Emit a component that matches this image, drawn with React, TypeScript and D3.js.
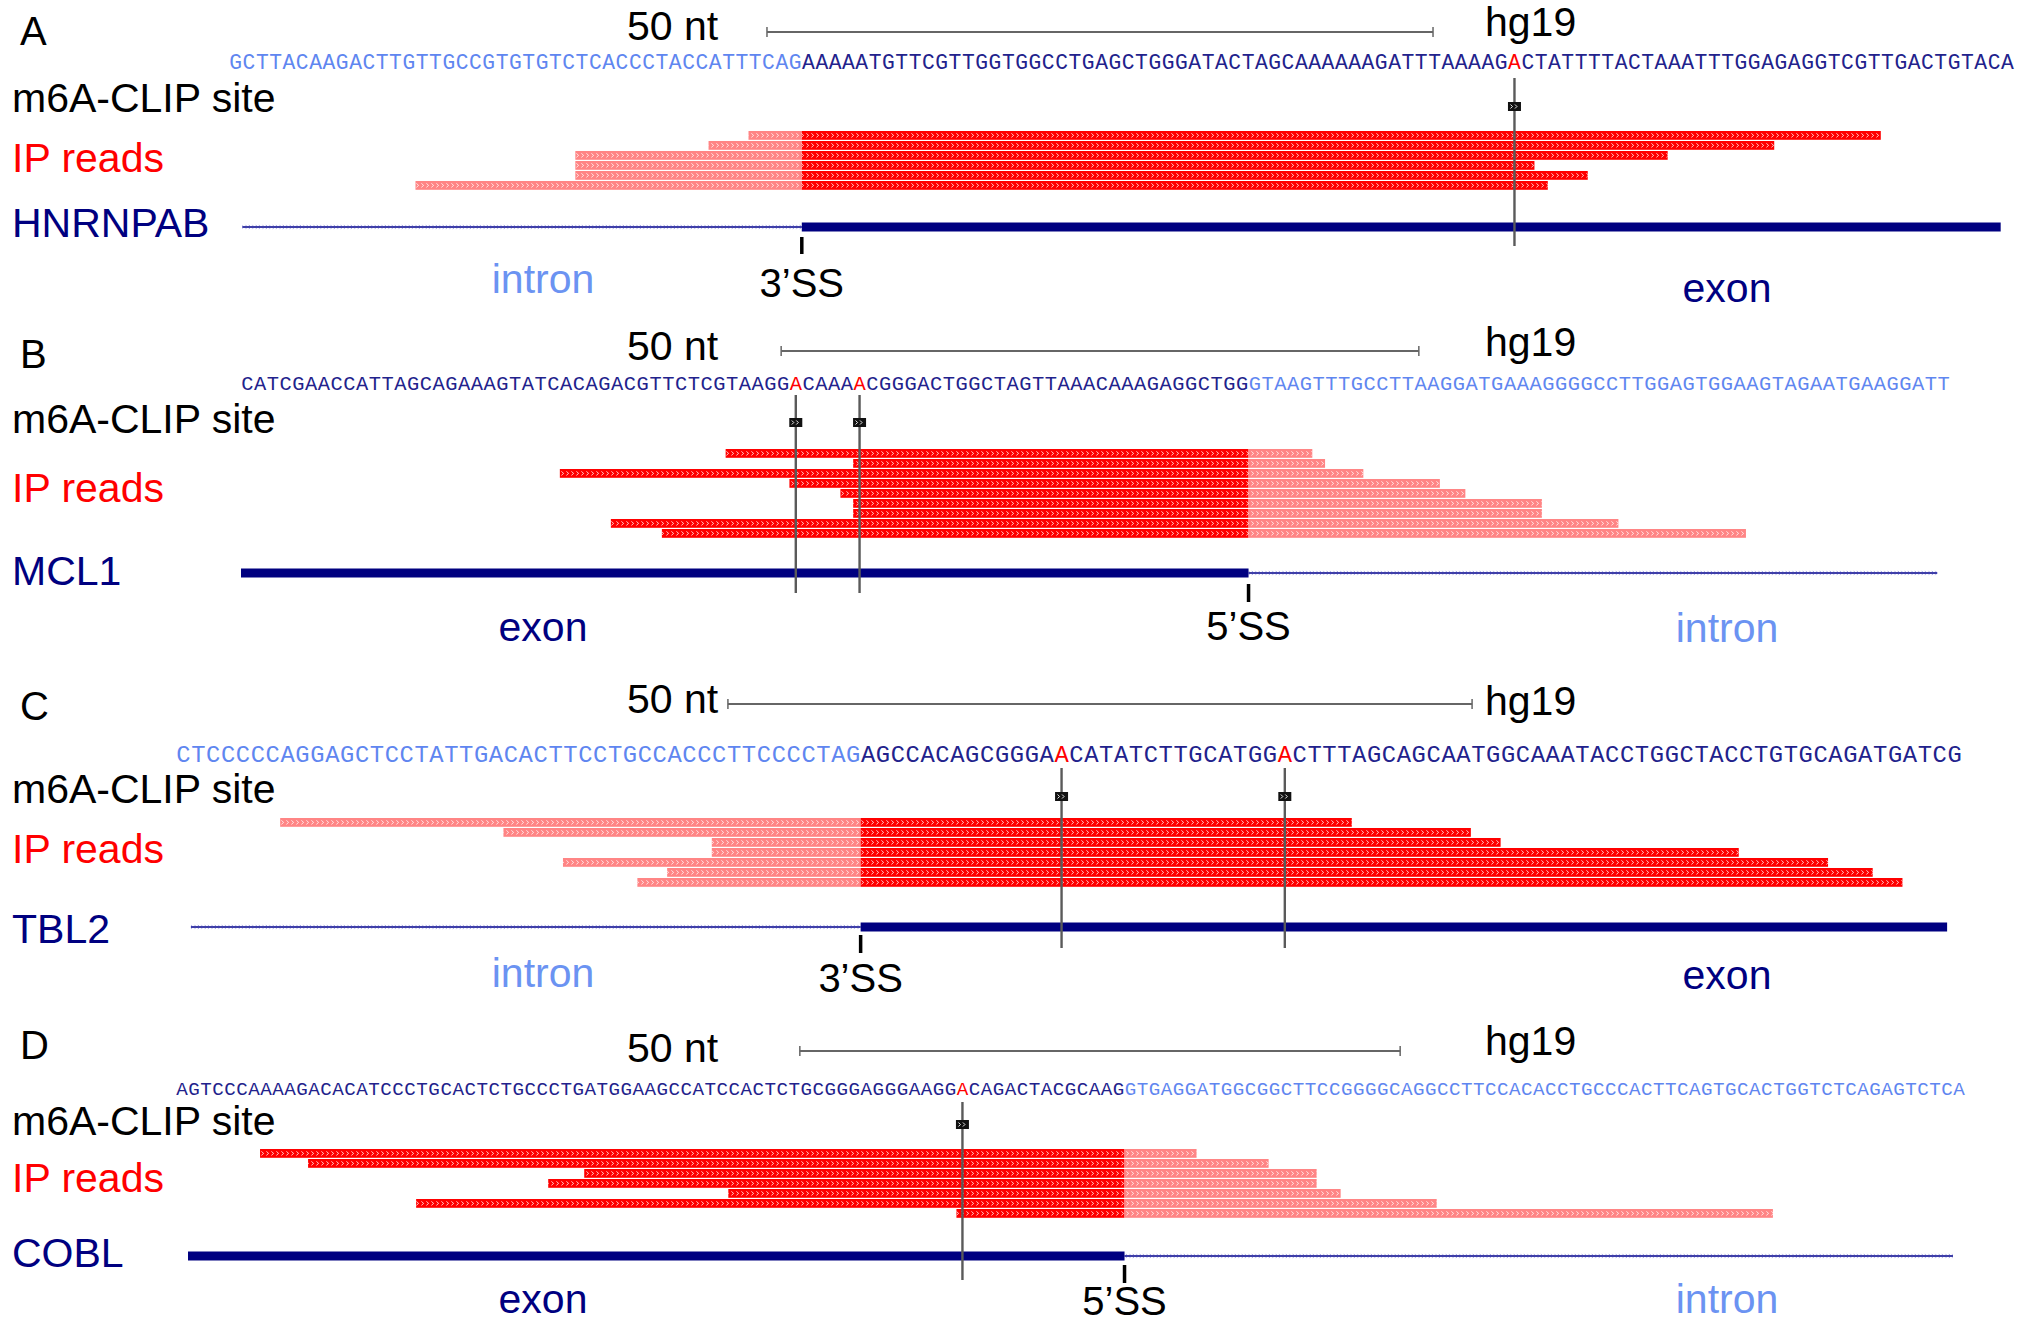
import React from "react";
import * as d3 from "d3";

const W = 2028;
const H = 1324;

// ---------- data ----------
const panelLetters = ["A", "B", "C", "D"];
const geneNames = ["HNRNPAB", "MCL1", "TBL2", "COBL"];
const sequences = [
  "GCTTACAAGACTTGTTGCCGTGTGTCTCACCCTACCATTTCAG" +
    "AAAAATGTTCGTTGGTGGCCTGAGCTGGGATACTAGCAAAAAAGATTTAAAAG" +
    "A" +
    "CTATTTTACTAAATTTGGAGAGGTCGTTGACTGTACA",
  "CATCGAACCATTAGCAGAAAGTATCACAGACGTTCTCGTAAGG" +
    "A" +
    "CAAA" +
    "A" +
    "CGGGACTGGCTAGTTAAACAAAGAGGCTGG" +
    "GTAAGTTTGCCTTAAGGATGAAAGGGGCCTTGGAGTGGAAGTAGAATGAAGGATT",
  "CTCCCCCAGGAGCTCCTATTGACACTTCCTGCCACCCTTCCCCTAG" +
    "AGCCACAGCGGGA" +
    "A" +
    "CATATCTTGCATGG" +
    "A" +
    "CTTTAGCAGCAATGGCAAATACCTGGCTACCTGTGCAGATGATCG",
  "AGTCCCAAAAGACACATCCCTGCACTCTGCCCTGATGGAAGCCATCCACTCTGCGGGAGGGAAGG" +
    "A" +
    "CAGACTACGCAAG" +
    "GTGAGGATGGCGGCTTCCGGGGCAGGCCTTCCACACCTGCCCACTTCAGTGCACTGGTCTCAGAGTCTCA",
];
const spliceSites = [43, 79, 46, 79];
const spliceLabels = ["3\u2019SS", "5\u2019SS", "3\u2019SS", "5\u2019SS"];
const exonOnRight = [true, false, true, false];
const geneExtents = [
  [1, 133],
  [0, 133],
  [1, 119],
  [1, 148],
];
const m6aSites = [[96], [43, 48], [59, 74], [65]];
const readStarts = [
  [39, 36, 26, 26, 26, 14],
  [38, 48, 25, 43, 47, 48, 48, 29, 33],
  [7, 22, 36, 36, 26, 33, 31],
  [7, 11, 34, 31, 46, 20, 65],
];
const readEnds = [
  [124, 116, 108, 98, 102, 99],
  [84, 85, 88, 94, 96, 102, 102, 108, 118],
  [79, 87, 89, 105, 111, 114, 116],
  [85, 91, 95, 95, 97, 105, 133],
];
const scaleBarNt = 50;

// ---------- layout ----------
const layout = [
  { x0: 229, x1: 2014, letterY: 45, barY: 32, ntY: 40, hgY: 36, seqY: 69, m6aY: 112, ipY: 172, geneLabY: 237, markerTop: 102, lineTop: 78, lineBot: 246, readTop: 131, geneY: 227, tickTop: 237, tickBot: 254, ssY: 297, leftLabY: 293, rightLabY: 302 },
  { x0: 241, x1: 1950, letterY: 368, barY: 351, ntY: 360, hgY: 356, seqY: 390, m6aY: 433, ipY: 502, geneLabY: 585, markerTop: 418, lineTop: 395, lineBot: 593, readTop: 449, geneY: 573, tickTop: 584, tickBot: 602, ssY: 640, leftLabY: 641, rightLabY: 642 },
  { x0: 176, x1: 1962, letterY: 720, barY: 704, ntY: 713, hgY: 715, seqY: 762, m6aY: 803, ipY: 863, geneLabY: 943, markerTop: 792, lineTop: 768, lineBot: 948, readTop: 818, geneY: 927, tickTop: 935, tickBot: 953, ssY: 992, leftLabY: 987, rightLabY: 989 },
  { x0: 176, x1: 1965, letterY: 1059, barY: 1051, ntY: 1062, hgY: 1055, seqY: 1095, m6aY: 1135, ipY: 1192, geneLabY: 1267, markerTop: 1120, lineTop: 1102, lineBot: 1280, readTop: 1149, geneY: 1256, tickTop: 1265, tickBot: 1283, ssY: 1315, leftLabY: 1313, rightLabY: 1313 },
];

const SANS = "'Liberation Sans', Arial, sans-serif";
const MONO = "'Liberation Mono', 'Courier New', monospace";
const NAVY = "#000080";
const LIGHTBLUE = "#6b93f2";
const SEQ_EXON = "#22228c";
const SEQ_INTRON = "#5f86f0";
const RED = "#ff0000";
const LIGHTRED = "#ff8585";
const READ_PITCH = 10;
const READ_H = 8.8;

function Panel({ i }: { i: number }) {
  const L = layout[i];
  const seq = sequences[i];
  const x = d3.scaleLinear().domain([0, seq.length]).range([L.x0, L.x1]);
  const ntW = x(1) - x(0);
  const splice = spliceSites[i];
  const right = exonOnRight[i];
  const isExon = (p: number) => (right ? p >= splice : p < splice);
  const sites = m6aSites[i];

  const runs: { color: string; xs: number[]; chars: string }[] = [];
  seq.split("").forEach((c, p) => {
    const color = sites.includes(p) ? RED : isExon(p) ? SEQ_EXON : SEQ_INTRON;
    const last = runs[runs.length - 1];
    if (last && last.color === color) {
      last.xs.push(x(p + 0.5));
      last.chars += c;
    } else runs.push({ color, xs: [x(p + 0.5)], chars: c });
  });

  const barCenter = 1100;
  const barHalf = (ntW * scaleBarNt) / 2;
  const [g0, g1] = geneExtents[i];
  const exonStart = right ? splice : g0;
  const exonEnd = right ? g1 : splice;
  const intronStart = right ? g0 : splice;
  const intronEnd = right ? splice : g1;

  const leftIsExon = !right;
  const chevId = `chev${i}`;
  const ichevId = `ichev${i}`;

  return (
    <g>
      <defs>
        <pattern id={chevId} x={0} y={L.readTop} width={5} height={READ_PITCH} patternUnits="userSpaceOnUse">
          <path d="M1.4,2.4 L3.6,4.4 L1.4,6.4" stroke="#ffffff" strokeWidth={0.9} fill="none" opacity={0.85} />
        </pattern>
        <pattern id={ichevId} x={0} y={L.geneY - 3} width={3.4} height={6} patternUnits="userSpaceOnUse">
          <path d="M0.7,1.3 L2.3,3 L0.7,4.7" stroke="#3a3ac8" strokeWidth={0.7} fill="none" />
        </pattern>
      </defs>

      <text x={20} y={L.letterY} fontFamily={SANS} fontSize={40} fill="#000">
        {panelLetters[i]}
      </text>

      <text x={627} y={L.ntY} fontFamily={SANS} fontSize={41} fill="#000">
        50 nt
      </text>
      <line x1={barCenter - barHalf} x2={barCenter + barHalf} y1={L.barY} y2={L.barY} stroke="#666" strokeWidth={2} />
      <line x1={barCenter - barHalf} x2={barCenter - barHalf} y1={L.barY - 5} y2={L.barY + 5} stroke="#666" strokeWidth={1.5} />
      <line x1={barCenter + barHalf} x2={barCenter + barHalf} y1={L.barY - 5} y2={L.barY + 5} stroke="#666" strokeWidth={1.5} />
      <text x={1485} y={L.hgY} fontFamily={SANS} fontSize={41} fill="#000">
        hg19
      </text>

      <text y={L.seqY} fontFamily={MONO} fontSize={ntW * 1.6} textAnchor="middle">
        {runs.map((r, k) => (
          <tspan key={k} x={r.xs.map((v) => v.toFixed(2)).join(" ")} fill={r.color}>
            {r.chars}
          </tspan>
        ))}
      </text>

      <text x={12} y={L.m6aY} fontFamily={SANS} fontSize={41} fill="#000">
        m6A-CLIP site
      </text>
      <text x={12} y={L.ipY} fontFamily={SANS} fontSize={41} fill={RED}>
        IP reads
      </text>
      <text x={12} y={L.geneLabY} fontFamily={SANS} fontSize={41} fill={NAVY}>
        {geneNames[i]}
      </text>

      {readStarts[i].map((s, r) => {
        const e = readEnds[i][r];
        const y = L.readTop + r * READ_PITCH;
        const parts: { a: number; b: number; fill: string }[] = [];
        if (right) {
          if (s < splice) parts.push({ a: s, b: Math.min(e, splice), fill: LIGHTRED });
          if (e > splice) parts.push({ a: Math.max(s, splice), b: e, fill: RED });
        } else {
          if (s < splice) parts.push({ a: s, b: Math.min(e, splice), fill: RED });
          if (e > splice) parts.push({ a: Math.max(s, splice), b: e, fill: LIGHTRED });
        }
        return (
          <g key={r}>
            {parts.map((p, k) => (
              <rect key={k} x={x(p.a)} y={y} width={x(p.b) - x(p.a)} height={READ_H} fill={p.fill} />
            ))}
            <rect x={x(s)} y={y} width={x(e) - x(s)} height={READ_H} fill={`url(#${chevId})`} />
          </g>
        );
      })}

      <line x1={x(intronStart)} x2={x(intronEnd)} y1={L.geneY} y2={L.geneY} stroke={NAVY} strokeWidth={1.3} />
      <rect x={x(intronStart)} y={L.geneY - 3} width={x(intronEnd) - x(intronStart)} height={6} fill={`url(#${ichevId})`} />
      <rect x={x(exonStart)} y={L.geneY - 4.5} width={x(exonEnd) - x(exonStart)} height={9} fill={NAVY} />

      <rect x={x(splice) - 1.75} y={L.tickTop} width={3.5} height={L.tickBot - L.tickTop} fill="#000" />
      <text x={x(splice)} y={L.ssY} fontFamily={SANS} fontSize={40} textAnchor="middle" fill="#000">
        {spliceLabels[i]}
      </text>
      <text x={543} y={L.leftLabY} fontFamily={SANS} fontSize={41} textAnchor="middle" fill={leftIsExon ? NAVY : LIGHTBLUE}>
        {leftIsExon ? "exon" : "intron"}
      </text>
      <text x={1727} y={L.rightLabY} fontFamily={SANS} fontSize={41} textAnchor="middle" fill={leftIsExon ? LIGHTBLUE : NAVY}>
        {leftIsExon ? "intron" : "exon"}
      </text>

      {sites.map((p, k) => {
        const cx = x(p + 0.5);
        return (
          <g key={k}>
            <line x1={cx} x2={cx} y1={L.lineTop} y2={L.lineBot} stroke="#5a5a5a" strokeWidth={2.4} />
            <rect x={cx - 6.5} y={L.markerTop} width={13} height={9} fill="#111" />
            <path
              d={`M${cx - 4},${L.markerTop + 2.5} L${cx - 2},${L.markerTop + 4.5} L${cx - 4},${L.markerTop + 6.5} M${cx + 0.5},${L.markerTop + 2.5} L${cx + 2.5},${L.markerTop + 4.5} L${cx + 0.5},${L.markerTop + 6.5}`}
              stroke="#fff"
              strokeWidth={0.9}
              fill="none"
            />
          </g>
        );
      })}
    </g>
  );
}

export default function App() {
  return (
    <svg
      width={W}
      height={H}
      viewBox={`0 0 ${W} ${H}`}
      style={{ position: "absolute", left: 0, top: 0, background: "#fff", display: "block" }}
    >
      <rect x={0} y={0} width={W} height={H} fill="#fff" />
      {panelLetters.map((_, i) => (
        <Panel key={i} i={i} />
      ))}
    </svg>
  );
}
